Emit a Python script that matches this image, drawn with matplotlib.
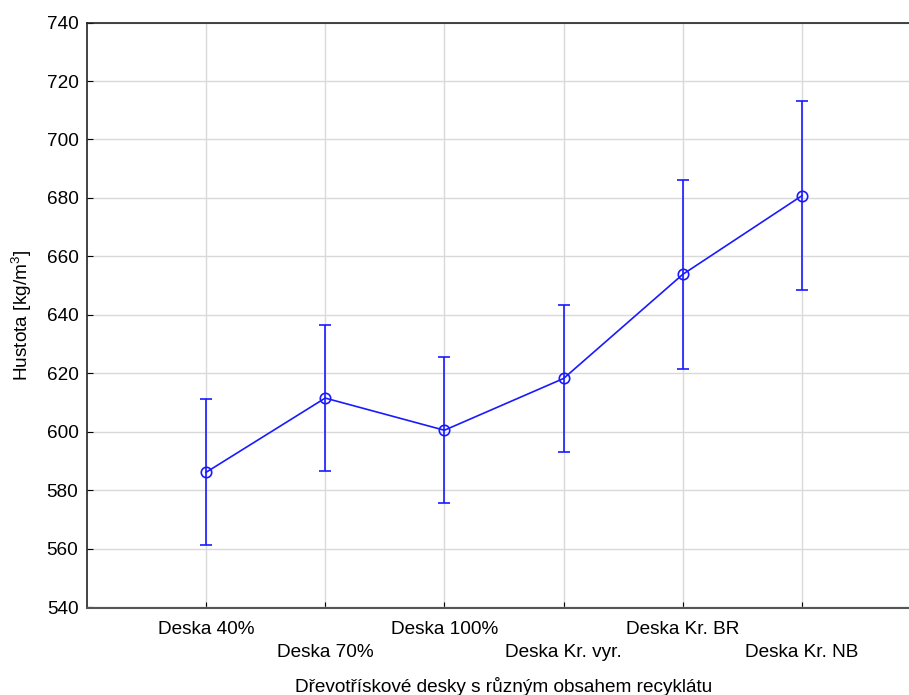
import matplotlib
matplotlib.use("Agg")
import matplotlib.pyplot as plt

plt.rcParams['font.family'] = ['Liberation Sans', 'DejaVu Sans']
plt.rcParams['mathtext.fontset'] = 'custom'
plt.rcParams['mathtext.rm'] = 'Liberation Sans'

categories = ["Deska 40%", "Deska 70%", "Deska 100%", "Deska Kr. vyr.",
              "Deska Kr. BR", "Deska Kr. NB"]
means = [586.2, 611.6, 600.6, 618.3, 653.9, 680.8]
errors = [25.0, 25.0, 25.0, 25.0, 32.3, 32.3]
y_ticks = [540, 560, 580, 600, 620, 640, 660, 680, 700, 720, 740]

W, H = 909, 695
fig = plt.figure(figsize=(W / 100, H / 100), dpi=100)
left_px, right_px = 86.8, 921.2
top_px, bottom_px = 22.5, 607.5
ax = fig.add_axes([left_px / W, (H - bottom_px) / H,
                   (right_px - left_px) / W, (bottom_px - top_px) / H])

x = list(range(len(categories)))
color = '#1a1aff'
ax.errorbar(x, means, yerr=errors, color=color, lw=1.2, elinewidth=1.2,
            capsize=4.5, capthick=1.2, marker='o', markersize=7.5,
            markerfacecolor='none', markeredgecolor=color, markeredgewidth=1.2,
            zorder=3)

ax.set_xlim(-1, 6)
ax.set_ylim(540, 740)
ax.set_yticks(y_ticks)
ax.set_xticks(x)
labels = [c if i % 2 == 0 else "\n" + c for i, c in enumerate(categories)]
ax.set_xticklabels(labels, fontsize=13.7, linespacing=1.42)
ax.tick_params(axis='y', labelsize=13.7, direction='in', length=4, pad=6)
ax.tick_params(axis='x', direction='in', length=4, pad=10)

ax.grid(True, color='#d9d9d9', lw=1.0, zorder=0)
ax.set_axisbelow(True)
for s in ['left', 'top']:
    ax.spines[s].set_color('#222222')
    ax.spines[s].set_linewidth(1.2)
ax.spines['bottom'].set_color('#555555')
ax.spines['bottom'].set_linewidth(1.5)
ax.spines['right'].set_visible(False)

ax.set_xlabel("Dřevotřískové desky s různým obsahem recyklátu", fontsize=13.7,
              labelpad=11.5)
ax.set_ylabel("Hustota [kg/m$^3$]", fontsize=13.7, labelpad=9)

fig.savefig("out.png", dpi=100)
